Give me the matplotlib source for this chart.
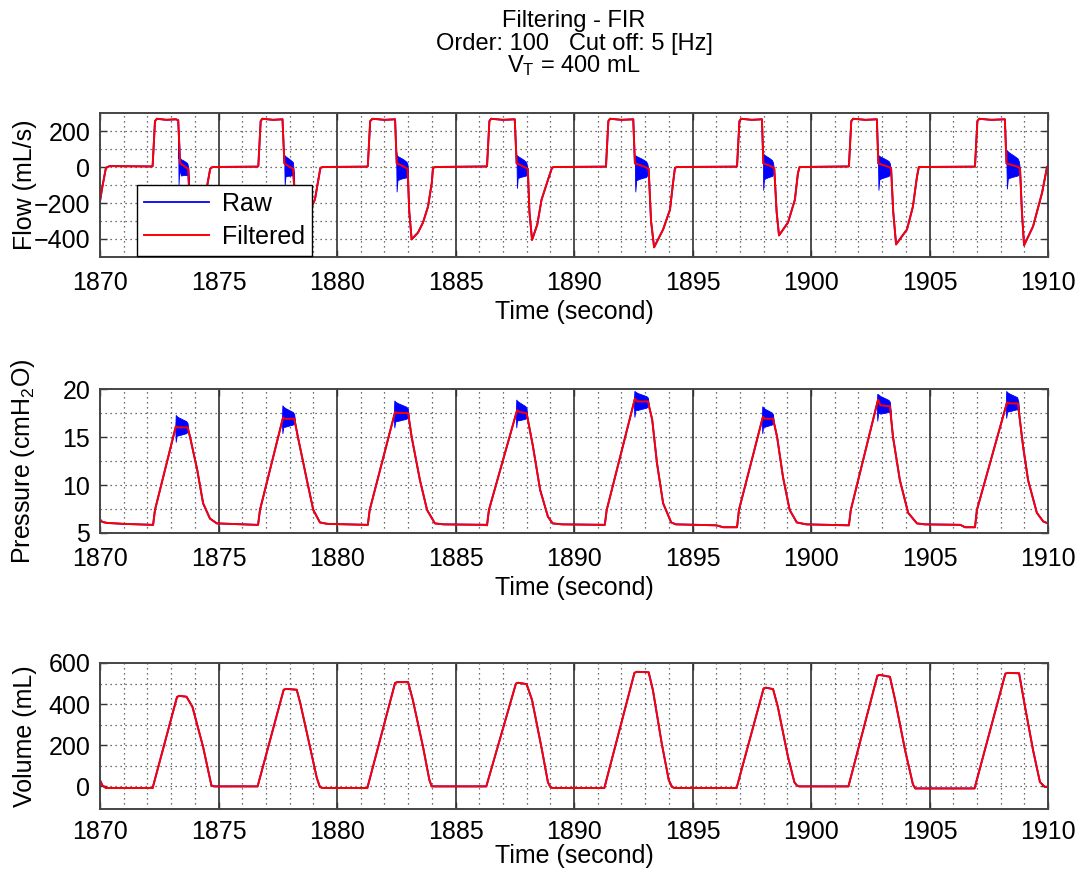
import numpy as np
import matplotlib
matplotlib.use("Agg")
import matplotlib.pyplot as plt

plt.rcParams['font.family'] = ['Liberation Sans', 'DejaVu Sans']
plt.rcParams['mathtext.fontset'] = 'custom'
plt.rcParams['mathtext.rm'] = 'Liberation Sans'
plt.rcParams['mathtext.it'] = 'Liberation Sans:italic'
plt.rcParams['font.size'] = 18

# ---------------- data ----------------
FLOW_T = [1870.0, 1870.1, 1870.25, 1870.4, 1872.2,
          1872.22, 1872.32, 1872.4, 1872.8, 1873.2, 1873.3, 1873.38, 1873.5, 1873.6, 1873.72, 1873.8, 1873.9, 1874.1, 1874.3, 1874.5, 1874.65, 1874.75, 1876.65,
          1876.68, 1876.78, 1876.85, 1877.3, 1877.7, 1877.78, 1877.9, 1878.0, 1878.15, 1878.25, 1878.35, 1878.55, 1878.8, 1879.07, 1879.2, 1879.3, 1879.4, 1881.28,
          1881.3, 1881.4, 1881.5, 1882.0, 1882.45, 1882.52, 1882.7, 1882.85, 1882.98, 1883.05, 1883.15, 1883.42, 1883.63, 1883.84, 1884.0, 1884.05, 1884.15, 1886.3,
          1886.33, 1886.43, 1886.5, 1887.0, 1887.5, 1887.58, 1887.75, 1887.9, 1888.05, 1888.12, 1888.23, 1888.45, 1888.63, 1888.9, 1889.07, 1889.15, 1891.33,
          1891.35, 1891.45, 1891.52, 1892.0, 1892.5, 1892.57, 1892.8, 1893.0, 1893.15, 1893.25, 1893.38, 1893.76, 1894.05, 1894.18, 1894.26, 1894.35, 1896.86,
          1896.88, 1896.98, 1897.05, 1897.5, 1897.93, 1897.99, 1898.2, 1898.38, 1898.45, 1898.55, 1898.65, 1899.03, 1899.32, 1899.45, 1899.52, 1901.58,
          1901.6, 1901.7, 1901.78, 1902.3, 1902.78, 1902.84, 1903.05, 1903.3, 1903.38, 1903.47, 1903.59, 1904.05, 1904.3, 1904.47, 1904.55, 1906.9,
          1906.92, 1907.02, 1907.1, 1907.6, 1908.18, 1908.25, 1908.5, 1908.75, 1908.82, 1908.9, 1908.99, 1909.37, 1909.75, 1909.96, 1910.0]
FLOW_V = [-190, -110, -5, 5, 3,
          5, 255, 268, 262, 265, 260, 20, 10, 0, -10, -250, -400, -360, -250, -120, -10, 0, 2,
          5, 255, 268, 262, 265, 20, 10, 0, -10, -250, -400, -360, -260, -180, -80, -5, 0, 2,
          5, 255, 268, 262, 265, 20, 10, 0, -10, -250, -402, -364, -308, -220, -88, -5, 0, 3,
          5, 255, 268, 262, 265, 20, 10, 0, -10, -250, -405, -320, -182, -72, -5, 0, 2,
          5, 255, 268, 262, 265, 20, 10, 0, -10, -300, -446, -347, -237, -88, -5, 0, 2,
          5, 255, 268, 262, 265, 20, 10, 0, -10, -250, -380, -308, -182, -33, 0, 3,
          5, 255, 268, 262, 265, 20, 10, 0, -10, -250, -430, -347, -220, -55, 0, 2,
          5, 255, 268, 262, 265, 20, 10, 0, -10, -250, -435, -330, -143, 0, 5]

PRES_T = [1870.0, 1870.1, 1870.3, 1871.0, 1872.2,
          1872.24, 1872.32, 1873.2, 1873.3, 1873.7, 1873.8, 1874.1, 1874.35, 1874.64, 1874.93, 1875.5, 1876.6,
          1876.67, 1876.75, 1877.72, 1877.8, 1878.2, 1878.35, 1878.73, 1879.0, 1879.28, 1879.6, 1881.25,
          1881.3, 1881.38, 1882.45, 1882.55, 1883.0, 1883.15, 1883.5, 1883.8, 1884.13, 1884.5, 1886.3,
          1886.33, 1886.41, 1887.6, 1887.7, 1888.0, 1888.27, 1888.57, 1888.9, 1889.1, 1889.5, 1891.28,
          1891.3, 1891.38, 1892.57, 1892.67, 1893.12, 1893.3, 1893.5, 1893.76, 1894.1, 1894.3, 1896.0, 1896.3, 1896.86,
          1896.88, 1896.96, 1897.97, 1898.05, 1898.4, 1898.57, 1898.82, 1899.1, 1899.4, 1899.8, 1901.58,
          1901.6, 1901.68, 1902.83, 1902.93, 1903.33, 1903.46, 1903.75, 1904.1, 1904.47, 1904.8, 1906.3, 1906.5, 1906.9,
          1906.92, 1907.0, 1908.27, 1908.37, 1908.73, 1908.95, 1909.16, 1909.53, 1909.8, 1910.0]
PRES_V = [6.4, 6.15, 6.05, 5.95, 5.85,
          5.85, 7.4, 16.1, 16.0, 16.0, 15.0, 11.6, 8.1, 6.5, 6.0, 5.95, 5.85,
          5.85, 7.4, 17.0, 16.9, 16.9, 15.0, 10.5, 7.4, 6.1, 5.95, 5.85,
          5.85, 7.4, 17.6, 17.5, 17.5, 15.0, 10.5, 7.4, 6.0, 5.9, 5.85,
          5.8, 7.4, 17.8, 17.6, 17.5, 14.0, 9.5, 6.7, 6.0, 5.9, 5.85,
          5.85, 7.4, 19.0, 18.7, 18.7, 16.8, 12.3, 8.1, 6.1, 5.9, 5.8, 5.6, 5.6,
          5.6, 7.4, 17.1, 16.9, 16.9, 15.0, 10.8, 7.4, 6.1, 5.9, 5.8,
          5.8, 7.4, 18.9, 18.3, 18.2, 15.0, 10.5, 7.1, 6.0, 5.9, 5.85, 5.6, 5.6,
          5.6, 7.4, 18.6, 18.5, 18.5, 14.0, 10.5, 7.1, 6.2, 6.0]

VOL_T = [1870.0, 1870.1, 1870.25, 1872.22,
         1873.25, 1873.35, 1873.65, 1873.9, 1874.35, 1874.7, 1874.8, 1876.65,
         1877.75, 1877.85, 1878.3, 1878.45, 1878.86, 1879.15, 1879.28, 1879.4, 1881.28,
         1882.45, 1882.55, 1883.0, 1883.2, 1883.63, 1883.9, 1884.0, 1886.3,
         1887.55, 1887.65, 1888.0, 1888.23, 1888.65, 1888.9, 1889.0, 1889.1, 1891.28,
         1892.55, 1892.65, 1893.15, 1893.33, 1893.7, 1894.0, 1894.14, 1894.25, 1896.86,
         1898.0, 1898.1, 1898.4, 1898.6, 1899.03, 1899.3, 1899.4, 1899.5, 1901.58,
         1902.8, 1902.9, 1903.33, 1903.55, 1903.97, 1904.3, 1904.4, 1906.9,
         1908.2, 1908.3, 1908.78, 1909.03, 1909.37, 1909.66, 1909.87, 1910.0]
VOL_V = [30, 5, -8, -8,
         435, 440, 436, 387, 192, 5, 0, 0,
         470, 474, 470, 405, 192, 40, -3, -8, -8,
         503, 507, 507, 420, 192, 30, 0, 0,
         500, 504, 497, 420, 176, 20, -3, -8, -8,
         552, 557, 555, 468, 210, 30, -3, -8, -8,
         476, 480, 473, 387, 143, 20, 5, 0, 0,
         538, 542, 533, 420, 176, 10, -10, -10,
         548, 552, 550, 387, 176, 21, -3, -3]

# raw-signal oscillation bursts (blue), per breath
FLOW_BURST_START = [1873.30, 1877.78, 1882.50, 1887.58, 1892.57, 1897.97, 1902.83, 1908.25]
FLOW_BURST_END = [1873.75, 1878.20, 1883.00, 1888.02, 1893.12, 1898.42, 1903.35, 1908.80]
FLOW_BURST_TOP = [50, 65, 66, 66, 66, 75, 66, 94]
FLOW_BURST_LOW = [-100, -100, -136, -116, -136, -127, -127, -120]

PRES_BURST_START = [1873.18, 1877.68, 1882.40, 1887.55, 1892.53, 1897.93, 1902.78, 1908.22]
PRES_BURST_END = [1873.72, 1878.22, 1883.02, 1888.02, 1893.15, 1898.42, 1903.36, 1908.78]
PRES_BURST_TOP = [17.3, 18.3, 18.8, 18.9, 19.8, 18.2, 19.5, 19.8]
PRES_BURST_LOW = [14.5, 15.4, 16.0, 16.0, 17.1, 15.4, 16.7, 17.0]

BURST_FRAC = [0.0, 0.03, 0.1, 0.25, 0.45, 0.65, 0.85, 0.95, 1.0]
BURST_TOP_SHAPE = [0.3, 1.0, 0.9, 0.8, 0.7, 0.6, 0.5, 0.35, 0.1]
BURST_LOW_SHAPE = [0.3, 1.0, 0.6, 0.55, 0.5, 0.45, 0.4, 0.3, 0.1]

BREATH_MARKS = [1875, 1880, 1885, 1890, 1895, 1900, 1905]
X_TICKS = [1870, 1875, 1880, 1885, 1890, 1895, 1900, 1905, 1910]

FLOW_TICKS = [-400, -200, 0, 200]
PRES_TICKS = [5, 10, 15, 20]
VOL_TICKS = [0, 200, 400, 600]

# ---------------- figure ----------------
W, H = 1089, 873
fig = plt.figure(figsize=(W / 100, H / 100), dpi=100)

def fbox(l, t, r, b):
    return [l / W, 1 - b / H, (r - l) / W, (b - t) / H]

ax1 = fig.add_axes(fbox(100, 113, 1048, 257))
ax2 = fig.add_axes(fbox(100, 389, 1048, 533))
ax3 = fig.add_axes(fbox(100, 663, 1048, 809))

RAW_C = '#0000FF'
FIL_C = '#FF0000'
GRID_C = '#404040'


def bursts(ax, t, v, starts, ends, tops, lows):
    frac = np.array(BURST_FRAC)
    for s, e, top, low in zip(starts, ends, tops, lows):
        tt = s + frac * (e - s)
        base = np.interp(tt, t, v)
        up = base + np.array(BURST_TOP_SHAPE) * (top - base)
        dn = base - np.array(BURST_LOW_SHAPE) * (base - low)
        ax.fill_between(tt, dn, up, color=RAW_C, lw=0.6, zorder=2)


def style(ax, ylim, yticks, yminor, xpad, lpad):
    ax.set_xlim(1870, 1910)
    ax.set_ylim(*ylim)
    ax.set_xticks(X_TICKS)
    ax.set_yticks(yticks)
    ax.tick_params(axis='both', direction='in', length=5, width=1, color='#333333',
                   top=True, right=True, labelsize=18)
    ax.tick_params(axis='x', pad=xpad)
    ax.tick_params(axis='y', pad=7)
    for sp in ax.spines.values():
        sp.set_color('#444444')
        sp.set_linewidth(1.4)
        sp.set_zorder(5)
    # dotted grid
    for x in range(1871, 1910):
        if x % 5 != 0:
            ax.axvline(x, color=GRID_C, ls=(0, (1, 3)), lw=0.9, zorder=1)
    for y in yminor:
        ax.axhline(y, color=GRID_C, ls=(0, (1, 3)), lw=0.9, zorder=1)
    for x in BREATH_MARKS:
        ax.axvline(x, color='#303030', lw=1.2, zorder=1.5)
    ax.set_xlabel('Time (second)', fontsize=18, labelpad=lpad)


# Flow
ft, fv = np.array(FLOW_T), np.array(FLOW_V)
ax1.plot(ft, fv, color=RAW_C, lw=1.3, zorder=2, label='Raw')
bursts(ax1, ft, fv, FLOW_BURST_START, FLOW_BURST_END, FLOW_BURST_TOP, FLOW_BURST_LOW)
ax1.plot(ft, fv, color=FIL_C, lw=1.4, zorder=3, label='Filtered')
style(ax1, (-500, 300), FLOW_TICKS, [-400, -300, -200, -100, 0, 100, 200], 10, 4)
ax1.set_ylabel('Flow (mL/s)', fontsize=18)
leg = ax1.legend(loc='lower left', bbox_to_anchor=(0.039, 0.005), fontsize=18,
                 frameon=True, fancybox=False, framealpha=1, edgecolor='black',
                 handlelength=2.6, labelspacing=0.35, borderpad=0.3,
                 handletextpad=0.5, borderaxespad=0)
leg.get_frame().set_linewidth(1.0)
leg.set_zorder(10)

# Pressure
pt, pv = np.array(PRES_T), np.array(PRES_V)
ax2.plot(pt, pv, color=RAW_C, lw=1.3, zorder=2)
bursts(ax2, pt, pv, PRES_BURST_START, PRES_BURST_END, PRES_BURST_TOP, PRES_BURST_LOW)
ax2.plot(pt, pv, color=FIL_C, lw=1.4, zorder=3)
style(ax2, (5, 20), PRES_TICKS, [7.5, 10, 12.5, 15, 17.5], 10, 4)
ax2.set_ylabel('Pressure (cmH$_2$O)', fontsize=18)

# Volume
vt, vv = np.array(VOL_T), np.array(VOL_V)
ax3.plot(vt, vv, color=RAW_C, lw=1.3, zorder=2)
ax3.plot(vt, vv, color=FIL_C, lw=1.4, zorder=3)
style(ax3, (-110, 600), VOL_TICKS, [0, 100, 200, 300, 400, 500], 8, 0)
ax3.set_ylabel('Volume (mL)', fontsize=18)

for ax in (ax1, ax2, ax3):
    ax.yaxis.set_label_coords(-0.066, 0.5)

# Title
cx = 574 / W
fig.text(cx, 1 - 21 / H, 'Filtering - FIR', ha='center', va='center', fontsize=17)
fig.text(cx, 1 - 44 / H, 'Order: 100   Cut off: 5 [Hz]', ha='center', va='center', fontsize=17)
fig.text(cx, 1 - 66 / H, r'V$_\mathrm{T}$ = 400 mL', ha='center', va='center', fontsize=17)

fig.savefig('out.png', dpi=100)
